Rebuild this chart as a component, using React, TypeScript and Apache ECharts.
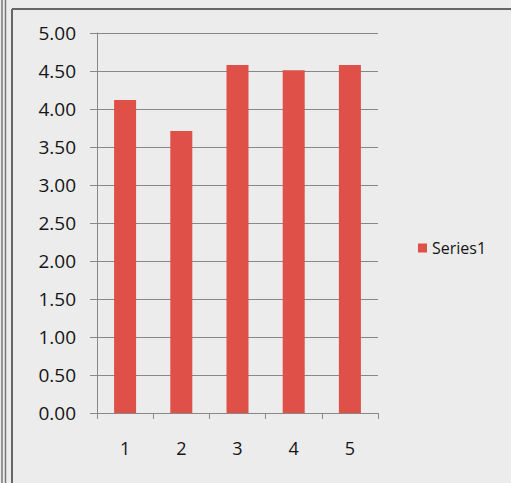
import React, { useEffect, useRef } from "react";
import * as echarts from "echarts";

const categories = ["1", "2", "3", "4", "5"];
const series1 = [4.12, 3.71, 4.58, 4.51, 4.58];
const seriesName = "Series1";

export default function App() {
  const ref = useRef<HTMLDivElement>(null);
  useEffect(() => {
    document.body.style.margin = "0";
    const chart = echarts.init(ref.current!, null, { renderer: "svg" });
    const font = "'Open Sans', 'Noto Sans', sans-serif";
    chart.setOption({
      animation: false,
      backgroundColor: "#ececec",
      textStyle: { fontFamily: font },
      grid: { left: 97, right: 133, top: 33, bottom: 70 },
      legend: {
        data: [seriesName],
        left: 413,
        top: 235,
        itemWidth: 9,
        itemHeight: 9,
        icon: "rect",
        itemGap: 6,
        textStyle: { fontSize: 16, color: "#151515", fontFamily: font },
      },
      xAxis: {
        type: "category",
        data: categories,
        axisLine: { show: true, lineStyle: { color: "#888" } },
        axisTick: { show: true, length: 6, lineStyle: { color: "#888" } },
        axisLabel: { fontSize: 18, color: "#151515", margin: 26 },
      },
      yAxis: {
        type: "value",
        min: 0,
        max: 5,
        interval: 0.5,
        axisLine: { show: true, lineStyle: { color: "#888" } },
        axisTick: { show: true, length: 7, lineStyle: { color: "#888" } },
        axisLabel: {
          fontSize: 19,
          color: "#151515",
          margin: 21,
          formatter: (v: number) => v.toFixed(2),
        },
        splitLine: { show: true, lineStyle: { color: "#888", width: 1 } },
      },
      series: [
        {
          name: seriesName,
          type: "bar",
          data: series1,
          barWidth: 22,
          itemStyle: { color: "#de5048" },
        },
      ],
      graphic: [
        { type: "line", shape: { x1: 2, y1: 0, x2: 2, y2: 483 }, style: { stroke: "#777", lineWidth: 1.5 } },
        { type: "line", shape: { x1: 5.5, y1: 0, x2: 5.5, y2: 483 }, style: { stroke: "#777", lineWidth: 1.5 } },
        { type: "line", shape: { x1: 12, y1: 9, x2: 12, y2: 483 }, style: { stroke: "#666", lineWidth: 2 } },
        { type: "line", shape: { x1: 12, y1: 9, x2: 511, y2: 9 }, style: { stroke: "#666", lineWidth: 2 } },
      ],
    });
    return () => chart.dispose();
  }, []);
  return <div ref={ref} style={{ width: 511, height: 483 }} />;
}
